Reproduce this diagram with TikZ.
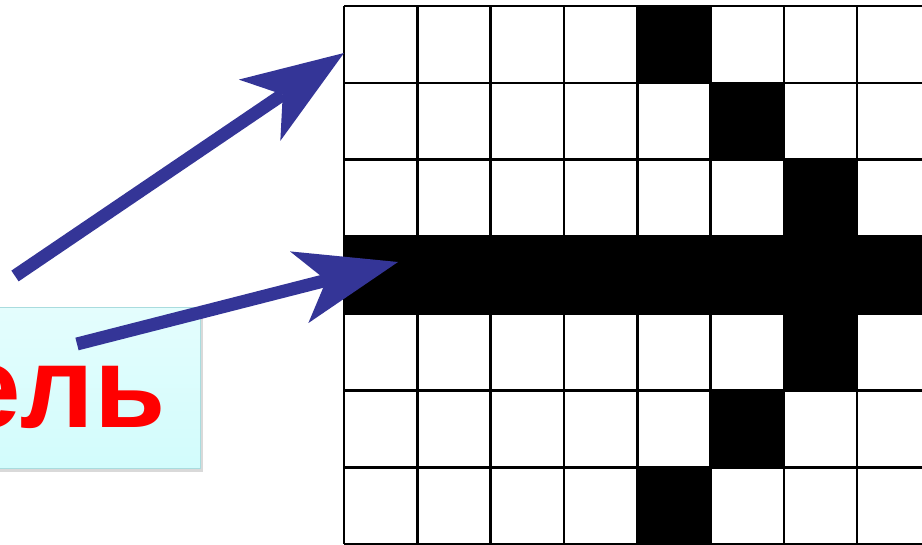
\documentclass[tikz,border=0pt]{standalone}
\usepackage{fontspec}
\setmainfont{Liberation Sans}
\usepackage{tikz}
\usetikzlibrary{arrows.meta,shadows,positioning}
\definecolor{cwArrow}{HTML}{343597}
\definecolor{cwWord}{HTML}{FF0000}
\definecolor{cwBoxTop}{HTML}{E4FDFD}
\definecolor{cwBoxBottom}{HTML}{D2FCFC}
\definecolor{cwBoxLine}{HTML}{A9DCDE}
\tikzset{
  cw diagram/.style={x=1pt, y=-1pt},
  cw line/.style={draw=black, line width=2.6pt},
  cw black/.style={fill=black},
  cw box/.style={draw=cwBoxLine, line width=1.2pt,
    top color=cwBoxTop, bottom color=cwBoxBottom,
    drop shadow={shadow xshift=2pt, shadow yshift=-3pt, opacity=0.3},
    minimum width=215pt, minimum height=161pt, inner sep=0pt},
  cw word/.style={text=cwWord, font=\fontsize{116}{120}\selectfont\bfseries,
    inner sep=0pt},
  cw arrow/.style={draw=cwArrow, line width=13pt,
    -{Stealth[length=102pt, width=74pt, inset=28pt, line width=0pt]}}
}

\begin{document}
\begin{tikzpicture}[cw diagram]
\useasboundingbox (0,0) rectangle (922,545);
% crossword grid
\def\cwx{344}\def\cwy{6}\def\cww{73.3}\def\cwh{76.9}
\fill[cw black] (\cwx,\cwy+3*\cwh) rectangle (\cwx+9*\cww,\cwy+4*\cwh);
\foreach \col/\row in {4/0,5/1,6/2,6/4,5/5,4/6}{
  \fill[cw black] (\cwx+\col*\cww,\cwy+\row*\cwh)
    rectangle (\cwx+\col*\cww+\cww,\cwy+\row*\cwh+\cwh);
}
\foreach \i in {0,...,9}{
  \draw[cw line] (\cwx+\i*\cww,\cwy) -- (\cwx+\i*\cww,\cwy+7*\cwh);
}
\foreach \j in {0,...,7}{
  \draw[cw line] (\cwx,\cwy+\j*\cwh) -- (\cwx+9*\cww,\cwy+\j*\cwh);
}
% label
\node[cw box, anchor=north west] (word box) at (-15,307) {};
\node[cw word, anchor=base east] (word) at (166,428) {ель};
% arrows
\coordinate (top tail) at (15,276);
\coordinate (top tip) at (344,53);
\coordinate (mid tail) at (77,344);
\coordinate (mid tip) at (398,262);
\draw[cw arrow] (top tail) -- (top tip);
\draw[cw arrow] (mid tail) -- (mid tip);
\end{tikzpicture}
\end{document}
